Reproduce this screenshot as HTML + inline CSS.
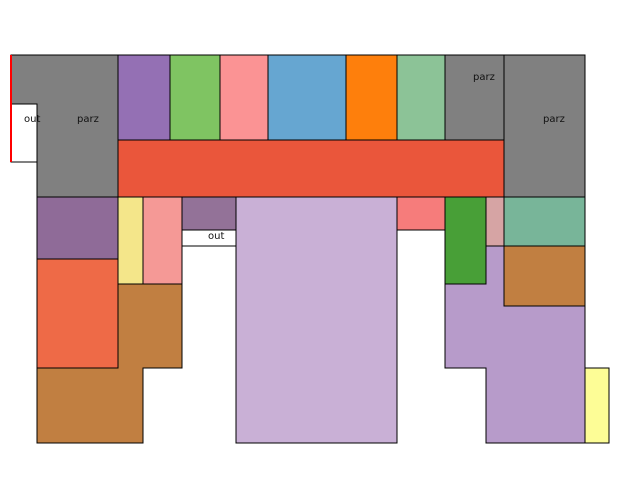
<!DOCTYPE html>
<html><head><style>body{margin:0;background:#fff}svg{display:block}</style></head><body>
<svg width="640" height="500" xmlns="http://www.w3.org/2000/svg" font-family="DejaVu Sans, Liberation Sans, sans-serif" font-size="10">
<g stroke="#000" stroke-width="1">
<polygon points="11,55 118,55 118,197 37,197 37,162 11,162" fill="#808080"/>
<rect x="11" y="104" width="26" height="58" fill="#fff"/>
<rect x="118" y="55" width="52" height="85" fill="#9470b4"/>
<rect x="170" y="55" width="50" height="85" fill="#7fc462"/>
<rect x="220" y="55" width="48" height="85" fill="#fb9394"/>
<rect x="268" y="55" width="78" height="85" fill="#66a6d1"/>
<rect x="346" y="55" width="51" height="85" fill="#fe7f0c"/>
<rect x="397" y="55" width="48" height="85" fill="#8cc397"/>
<rect x="445" y="55" width="59" height="85" fill="#808080"/>
<rect x="504" y="55" width="81" height="142" fill="#808080"/>
<rect x="118" y="140" width="386" height="57" fill="#ea563b"/>
<rect x="37" y="197" width="81" height="62" fill="#8f6b98"/>
<rect x="37" y="259" width="81" height="109" fill="#ee6a47"/>
<rect x="118" y="197" width="25" height="87" fill="#f4e68a"/>
<rect x="143" y="197" width="39" height="87" fill="#f59996"/>
<polygon points="118,284 182,284 182,368 143,368 143,443 37,443 37,368 118,368" fill="#c17f41"/>
<rect x="182" y="197" width="54" height="33" fill="#937298"/>
<rect x="182" y="230" width="54" height="16" fill="#fff"/>
<rect x="236" y="197" width="161" height="246" fill="#c9b0d6"/>
<rect x="397" y="197" width="48" height="33" fill="#f67c7b"/>
<rect x="445" y="197" width="41" height="87" fill="#489f37"/>
<rect x="486" y="197" width="18" height="49" fill="#d6a4a4"/>
<rect x="504" y="197" width="81" height="49" fill="#78b599"/>
<polygon points="445,284 486,284 486,246 504,246 504,306 585,306 585,443 486,443 486,368 445,368" fill="#b79bca"/>
<rect x="504" y="246" width="81" height="60" fill="#c17f41"/>
<rect x="585" y="368" width="24" height="75" fill="#fdfd96"/>
</g>
<line x1="11" y1="55" x2="11" y2="162" stroke="#f00" stroke-width="2"/>
<g fill="#111">
<text x="24" y="122">out</text>
<text x="77" y="122">parz</text>
<text x="208" y="239">out</text>
<text x="473" y="80">parz</text>
<text x="543" y="122">parz</text>
</g>
</svg>
</body></html>
